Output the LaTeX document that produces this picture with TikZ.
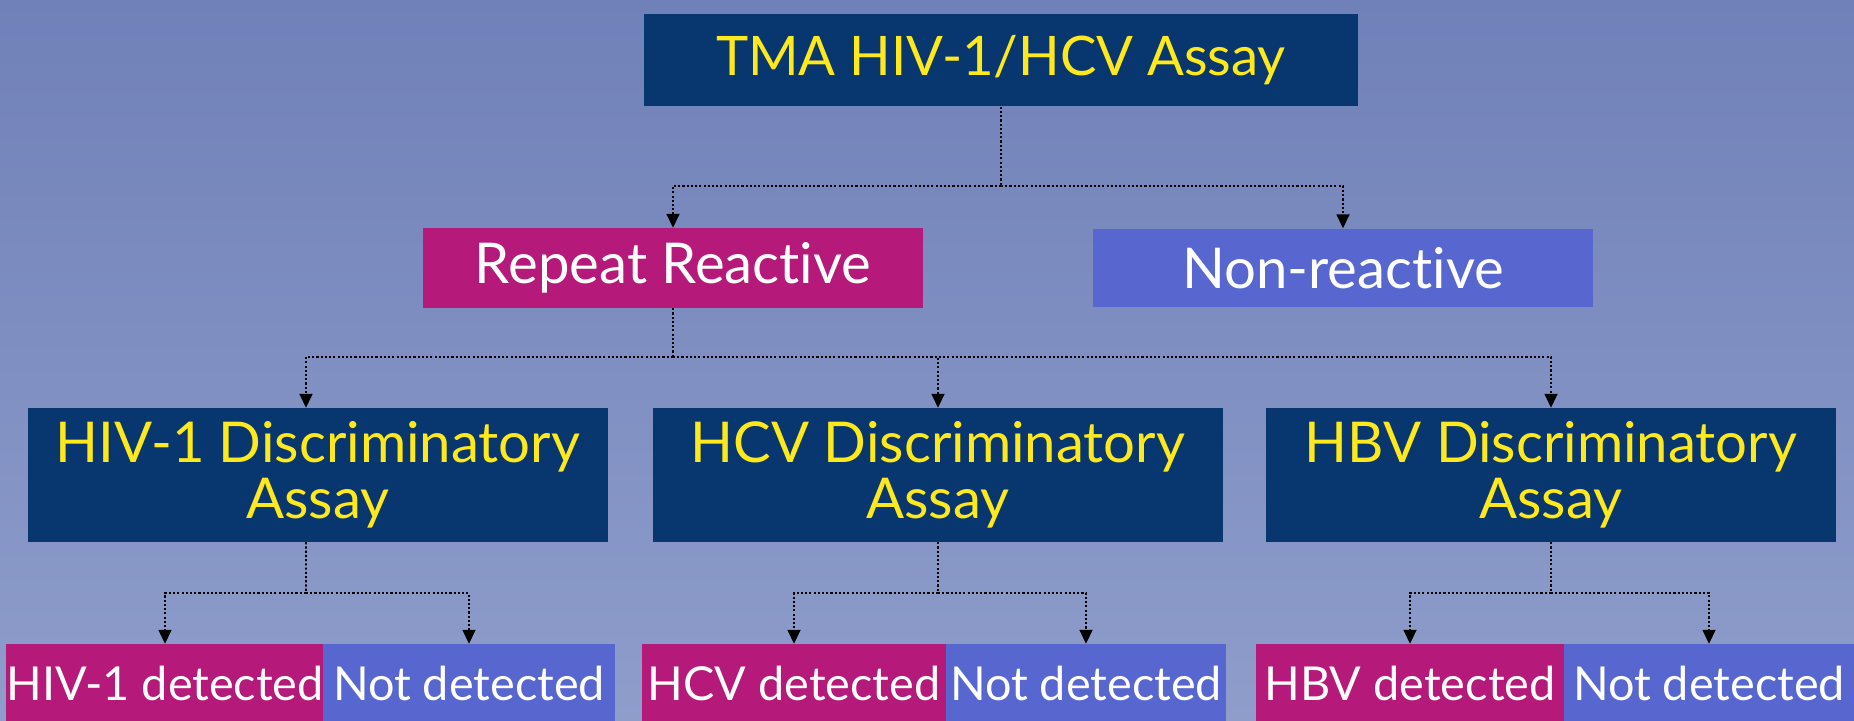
\documentclass[tikz,border=0pt]{standalone}
\usepackage{fontspec}
\setmainfont{Lato}[Ligatures=NoCommon]
\usepackage{xcolor}
\usetikzlibrary{arrows.meta}
\definecolor{bgtop}{HTML}{7081B9}
\definecolor{bgbot}{HTML}{8E9DCA}
\definecolor{navy}{HTML}{07376E}
\definecolor{plum}{HTML}{B5197A}
\definecolor{periw}{HTML}{5767CF}
\definecolor{lemon}{HTML}{FFE81C}

\begin{document}
\begin{tikzpicture}[x=0.01cm,y=-0.01cm,
    assaybox/.style={fill=navy,text=lemon,inner sep=0pt,align=center,font=\fontsize{16}{16}\selectfont},
    posbox/.style={fill=plum,text=white,inner sep=0pt,font=\fontsize{16}{16}\selectfont},
    negbox/.style={fill=periw,text=white,inner sep=0pt,font=\fontsize{16}{16}\selectfont},
    resbox/.style={inner sep=0pt,minimum height=0.77cm,font=\fontsize{13.3}{13.3}\selectfont},
    link/.style={line width=0.5pt,dash pattern=on 0.6pt off 0.6pt,-{Triangle[width=0.13cm,length=0.14cm]}}]
    \useasboundingbox (0,0) rectangle (1854,721);
    \shade[top color=bgtop,bottom color=bgbot] (0,0) rectangle (1854,721);
    % top level
    \node[assaybox,minimum width=7.13cm,minimum height=0.92cm,font=\fontsize{15.5}{15.5}\selectfont] (tma) at (1001,60) {TMA HIV-1/HCV Assay};
    \node[posbox,minimum width=5cm,minimum height=0.79cm] (rr) at (673,268) {Repeat Reactive};
    \node[negbox,minimum width=5cm,minimum height=0.78cm] (nr) at (1343,268) {Non-reactive};
    % discriminatory assays
    \node[assaybox,minimum width=5.8cm,minimum height=1.33cm] (hiv) at (318,475) {HIV-1 Discriminatory\\Assay};
    \node[assaybox,minimum width=5.69cm,minimum height=1.33cm] (hcv) at (938,475) {HCV Discriminatory\\Assay};
    \node[assaybox,minimum width=5.69cm,minimum height=1.33cm] (hbv) at (1551,475) {HBV Discriminatory\\Assay};
    % results
    \node[posbox,resbox,minimum width=3.16cm] (hivpos) at (165,683) {HIV-1 detected};
    \node[negbox,resbox,minimum width=2.92cm] (hivneg) at (469,683) {Not detected};
    \node[posbox,resbox,minimum width=3.04cm] (hcvpos) at (794,683) {HCV detected};
    \node[negbox,resbox,minimum width=2.79cm] (hcvneg) at (1086,683) {Not detected};
    \node[posbox,resbox,minimum width=3.08cm] (hbvpos) at (1410,683) {HBV detected};
    \node[negbox,resbox,minimum width=2.90cm] (hbvneg) at (1709,683) {Not detected};
    % junctions
    \coordinate (j0) at (1001,186);
    \coordinate (j1) at (673,357);
    \coordinate (j2) at (306,593);
    \coordinate (j3) at (938,593);
    \coordinate (j4) at (1551,593);
    % connectors
    \draw[link,-] (tma.south) -- (j0);
    \draw[link] (j0) -| (rr.north);
    \draw[link] (j0) -| (nr.north);
    \draw[link,-] (rr.south) -- (j1);
    \draw[link] (j1) -| ([xshift=-0.12cm]hiv.north);
    \draw[link] (j1) -| (hcv.north);
    \draw[link] (j1) -| (hbv.north);
    \draw[link,-] ([xshift=-0.12cm]hiv.south) -- (j2);
    \draw[link] (j2) -| (hivpos.north);
    \draw[link] (j2) -| (hivneg.north);
    \draw[link,-] (hcv.south) -- (j3);
    \draw[link] (j3) -| (hcvpos.north);
    \draw[link] (j3) -| (hcvneg.north);
    \draw[link,-] (hbv.south) -- (j4);
    \draw[link] (j4) -| (hbvpos.north);
    \draw[link] (j4) -| (hbvneg.north);
\end{tikzpicture}
\end{document}
